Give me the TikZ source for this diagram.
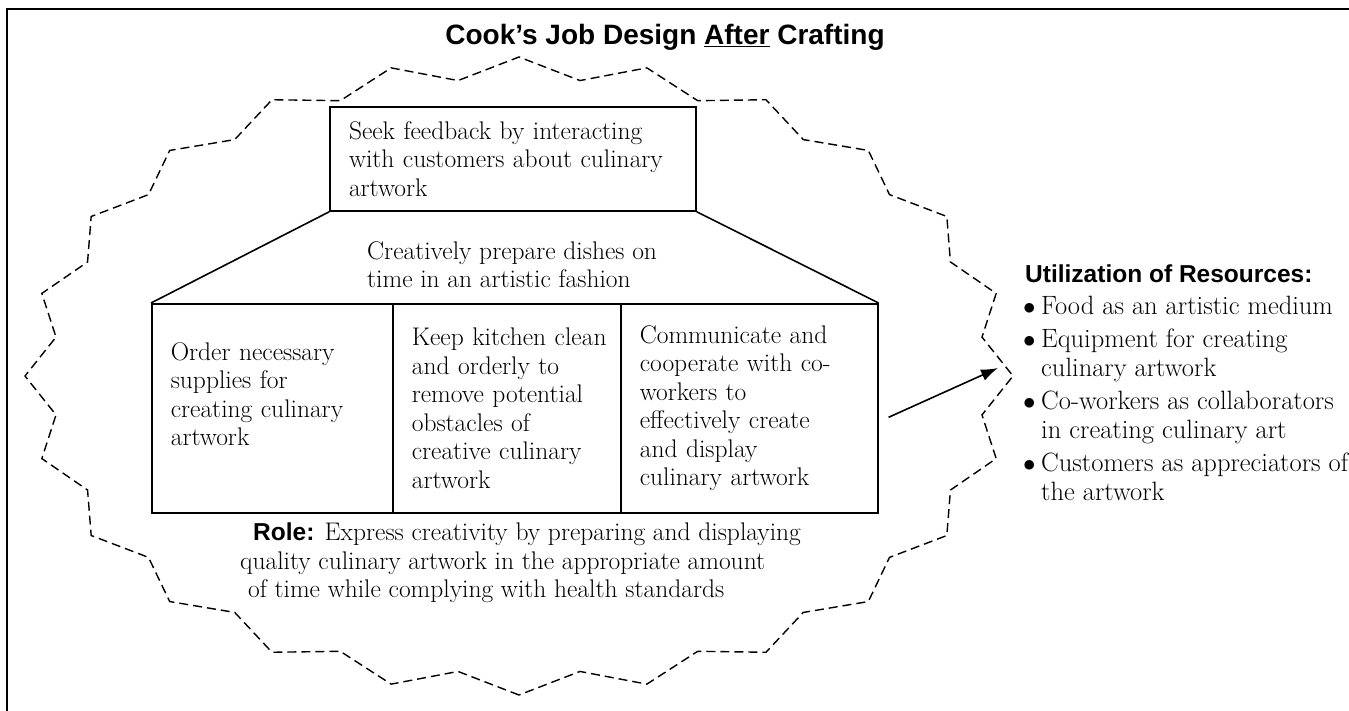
\documentclass[tikz,border=0pt]{standalone}
\usepackage{fontspec}
\setsansfont{Liberation Sans}
\usetikzlibrary{arrows.meta}
\newcommand{\bodyfont}{\fontsize{25.5}{28.5}\selectfont}
\newcommand{\listfont}{\fontsize{26.5}{29}\selectfont}
\newcommand{\headfont}{\sffamily\bfseries\fontsize{24.5}{28.5}\selectfont}
\newcommand{\itm}{\makebox[16pt][l]{\hspace{-2pt}$\bullet$}}

\begin{document}
\begin{tikzpicture}[x=1pt, y=-1pt,
    box/.style={draw, line width=1.6pt, align=left, inner xsep=10pt, inner ysep=0pt, font=\bodyfont,
      execute at begin node={\leftskip=9pt\relax}},
    col/.style={box, minimum height=209pt, anchor=north west},
    txt/.style={align=left, inner sep=0pt, anchor=north west, font=\bodyfont},
    star/.style={line width=1.4pt, dash pattern=on 9pt off 5pt},
    arr/.style={-{Latex[length=17pt, width=12pt]}, line width=1.6pt}
  ]
  \useasboundingbox (0,0) rectangle (1349,711);
  \draw[line width=2.4pt] (7,711) -- (7,9) -- (1349,9);

  \node[font=\sffamily\bfseries\fontsize{28}{32}\selectfont, anchor=base] (title) at (665,45) {Cook's Job Design \underline{After} Crafting};

  \draw[star, shift={(519,376)}] (90:494 and 319)
    \foreach \k in {0,...,22} { -- ({97.5+15*\k}:467 and 298) -- ({105+15*\k}:494 and 319) }
    -- (82.5:467 and 298) -- cycle;

  \node[box, text width=346pt, minimum height=104pt] (seek) at (513,159) {Seek feedback by interacting\\with customers about culinary\\artwork};
  \node[col, text width=221pt] (order) at (151,303) {Order necessary\\supplies for\\creating culinary\\artwork\\\mbox{}};
  \node[col, text width=208pt] (clean) at (392,303) {Keep kitchen clean\\and orderly to\\remove potential\\obstacles of\\creative culinary\\artwork};
  \node[col, text width=237pt] (share) at (620,303) {Communicate and\\cooperate with co-\\workers to\\effectively create\\and display\\culinary artwork};

  \draw[line width=1.6pt] (seek.south west) -- (order.north west);
  \draw[line width=1.6pt] (seek.south east) -- (share.north east);
  \node[txt] (prep) at (367,241) {Creatively prepare dishes on\\time in an artistic fashion};

  \node[txt] (role) at (240,523) {\hspace*{13pt}{\headfont Role:} Express creativity by preparing and displaying\\quality culinary artwork in the appropriate amount\\\hspace*{8pt}of time while complying with health standards};

  \node[txt, font=\listfont] (res) at (1025,265) {{\headfont Utilization of Resources:}\\[3pt]
    \itm Food as an artistic medium\\[4pt]
    \itm Equipment for creating\\
    \hspace*{16pt}culinary artwork\\[4pt]
    \itm Co-workers as collaborators\\
    \hspace*{16pt}in creating culinary art\\[4pt]
    \itm Customers as appreciators of\\
    \hspace*{16pt}the artwork};

  \coordinate (tip) at (998,368);
  \draw[arr] ([shift={(10,9)}]share.east) -- (tip);
\end{tikzpicture}
\end{document}
